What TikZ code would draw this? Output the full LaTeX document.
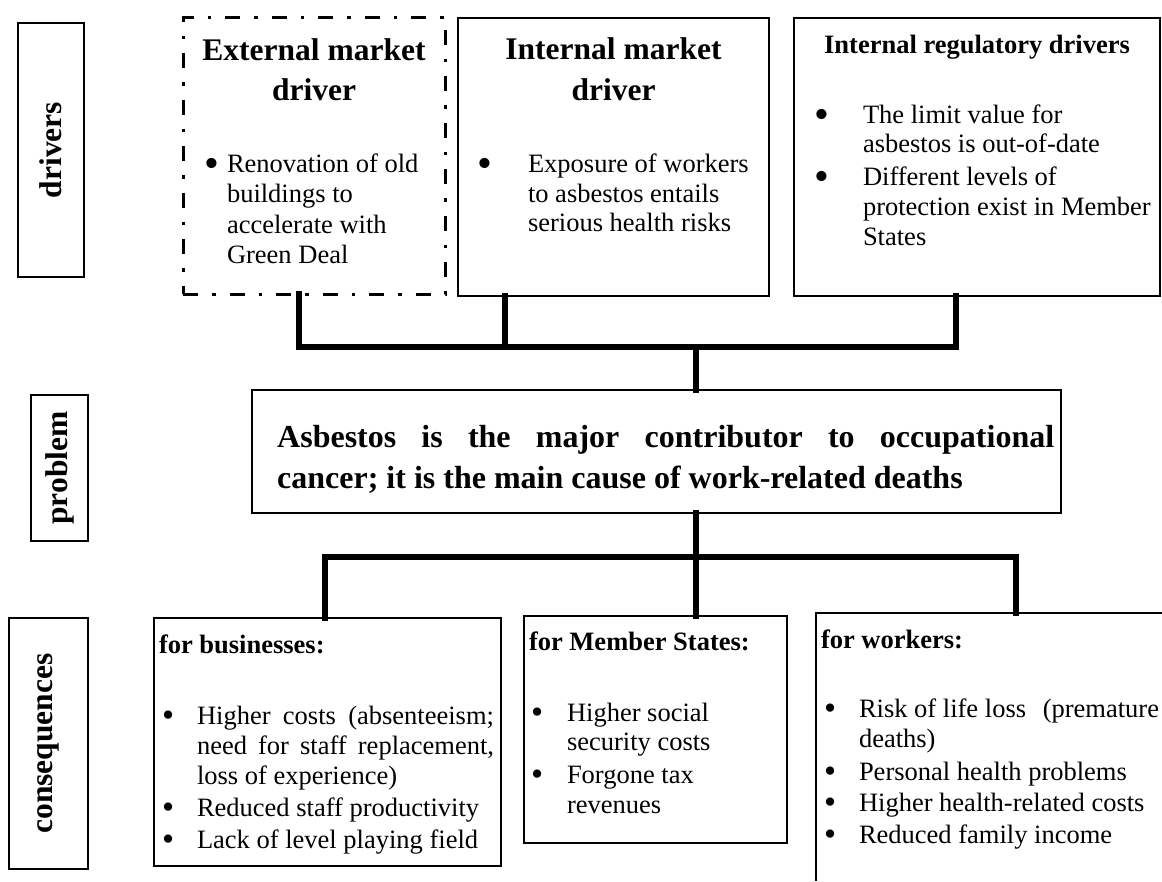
\documentclass[tikz,border=0pt]{standalone}
\usepackage{fontspec}
\setmainfont{Liberation Serif}
\newcommand\bodyf{\fontsize{26.5}{30}\selectfont}
\newcommand\headf{\fontsize{31.5}{40}\selectfont\bfseries}
\newcommand\subheadf{\fontsize{26.5}{30}\selectfont\bfseries}
\newcommand\bigbul{\raisebox{-5.5pt}{\scalebox{1.6}{•}}}
\newcommand\midbul{\raisebox{-2.8pt}{\scalebox{1.3}{•}}}
\begin{document}
\begin{tikzpicture}[x=1pt,y=-1pt,
  box/.style={draw, line width=1.6pt, inner sep=0pt, outer sep=0pt},
  ddbox/.style={draw, line width=3pt, inner sep=0pt, outer sep=0pt, dash pattern=on 15pt off 14pt on 3.5pt off 14pt},
  conn/.style={line width=6pt, line cap=rect, line join=miter},
  t/.style={inner sep=0pt, outer sep=0pt, anchor=base west, font=\bodyf},
  h/.style={inner sep=0pt, outer sep=0pt, anchor=base, font=\headf},
  sh/.style={inner sep=0pt, outer sep=0pt, anchor=base west, font=\subheadf},
  lab/.style={inner sep=0pt, outer sep=0pt, rotate=90, font=\headf}]
\useasboundingbox (0,0) rectangle (1162,881);

% ---- left labels
\node[box, minimum width=66pt, minimum height=254pt] (ldrv) at (51,150) {};
\node[lab] (ldrvt) at (ldrv) {drivers};
\node[box, minimum width=57pt, minimum height=146pt] (lprb) at (59.5,468) {};
\node[lab] (lprbt) at (lprb) {problem};
\node[box, minimum width=79pt, minimum height=251pt] (lcon) at (48.5,743.5) {};
\node[lab] (lcont) at (lcon) {consequences};

% ---- drivers
\node[ddbox, minimum width=262pt, minimum height=277pt] (ext) at (314,155.5) {};
\node[h] (exth1) at (314,60) {External market};
\node[h] (exth2) at (314,100) {driver};
\node[t] (extb) at (204,172) {\bigbul};
\node[t] (ext1) at (227,172) {Renovation of old};
\node[t] (ext2) at (227,202) {buildings to};
\node[t] (ext3) at (227,233) {accelerate with};
\node[t] (ext4) at (227,263) {Green Deal};

\node[box, minimum width=311pt, minimum height=278pt] (int) at (613.5,157) {};
\node[h] (inth1) at (613.5,59) {Internal market};
\node[h] (inth2) at (613.5,100) {driver};
\node[t] (intb) at (477,172) {\bigbul};
\node[t] (int1) at (528,172) {Exposure of workers};
\node[t] (int2) at (528,202) {to asbestos entails};
\node[t] (int3) at (528,231) {serious health risks};

\node[box, minimum width=366pt, minimum height=278pt] (reg) at (977,157) {};
\node[sh, anchor=base] (regh) at (977,53) {Internal regulatory drivers};
\node[t] (regb1) at (814,123) {\bigbul};
\node[t] (reg1) at (863,123) {The limit value for};
\node[t] (reg2) at (863,152) {asbestos is out-of-date};
\node[t] (regb2) at (814,185) {\bigbul};
\node[t] (reg3) at (863,185) {Different levels of};
\node[t] (reg4) at (863,215) {protection exist in Member};
\node[t] (reg5) at (863,245) {States};

% ---- problem
\node[box, minimum width=809pt, minimum height=123pt] (prob) at (656.5,451.5) {};
\node[inner sep=0pt, anchor=base west, font=\fontsize{32}{41}\selectfont\bfseries] (prob1) at (277,447)
  {\makebox[777pt][s]{Asbestos is the major contributor to occupational}};
\node[inner sep=0pt, anchor=base west, font=\fontsize{32}{41}\selectfont\bfseries] (prob2) at (277,488)
  {cancer; it is the main cause of work-related deaths};

% ---- consequences
\node[box, minimum width=347pt, minimum height=248pt] (bus) at (327.5,742) {};
\node[sh] (bush) at (159,653) {for businesses:};
\node[t] (busb1) at (162,724) {\midbul};
\node[t] (bus1) at (197,724) {\makebox[297pt][s]{Higher costs (absenteeism;}};
\node[t] (bus2) at (197,754) {\makebox[297pt][s]{need for staff replacement,}};
\node[t] (bus3) at (197,784) {loss of experience)};
\node[t] (busb2) at (162,816) {\midbul};
\node[t] (bus4) at (197,816) {Reduced staff productivity};
\node[t] (busb3) at (162,848) {\midbul};
\node[t] (bus5) at (197,848) {Lack of level playing field};

\node[box, minimum width=263pt, minimum height=227pt] (mst) at (655.5,729.5) {};
\node[sh] (msth) at (529,650) {for Member States:};
\node[t] (mstb1) at (531,721) {\midbul};
\node[t] (mst1) at (567,721) {Higher social};
\node[t] (mst2) at (567,750) {security costs};
\node[t] (mstb2) at (531,783) {\midbul};
\node[t] (mst3) at (567,783) {Forgone tax};
\node[t] (mst4) at (567,813) {revenues};

\node[inner sep=0pt, outer sep=0pt, minimum width=346pt, minimum height=268pt] (wrk) at (989,747) {};
\draw[line width=1.6pt] (wrk.south west) -- (wrk.north west) -- (wrk.north east);
\node[sh] (wrkh) at (821,648) {for workers:};
\node[t] (wrkb1) at (824,717) {\midbul};
\node[t] (wrk1) at (859,717) {\makebox[300pt][s]{Risk of life loss\hfill(premature}};
\node[t] (wrk2) at (859,747) {deaths)};
\node[t] (wrkb2) at (824,780) {\midbul};
\node[t] (wrk3) at (859,780) {Personal health problems};
\node[t] (wrkb3) at (824,811) {\midbul};
\node[t] (wrk4) at (859,811) {Higher health-related costs};
\node[t] (wrkb4) at (824,843) {\midbul};
\node[t] (wrk5) at (859,843) {Reduced family income};

% ---- connectors
\coordinate (tL) at (299,347);
\coordinate (tM) at (505,347);
\coordinate (tC) at (696,347);
\coordinate (tR) at (956,347);
\draw[conn] (ext.south -| tL) -- (tL) -- (tR) -- (reg.south -| tR);
\draw[conn] (int.south -| tM) -- (tM);
\draw[conn] (tC) -- (tC |- prob.north);

\coordinate (bL) at (325,557);
\coordinate (bC) at (696,557);
\coordinate (bR) at (1016,557);
\draw[conn] (bC |- prob.south) -- (bC);
\draw[conn] (bus.north -| bL) -- (bL) -- (bR) -- (wrk.north -| bR);
\draw[conn] (bC) -- (bC |- mst.north);
\end{tikzpicture}
\end{document}
